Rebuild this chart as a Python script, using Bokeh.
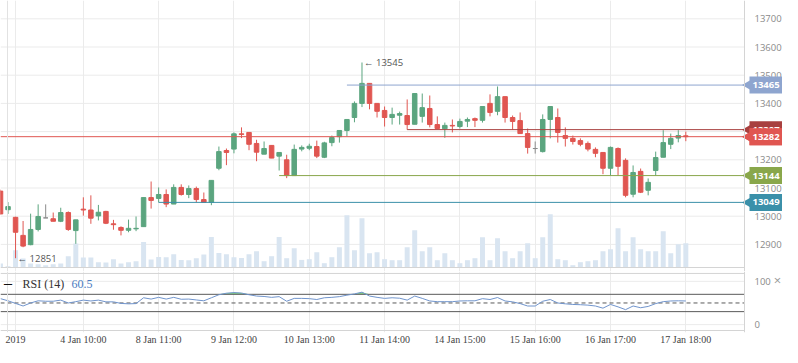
import numpy as np
from bokeh.plotting import figure
from bokeh.layouts import column
from bokeh.models import Range1d, FixedTicker, Label, Span, Grid
from bokeh.core.properties import value
from bokeh.embed import file_html
from bokeh.resources import INLINE

# ---------------- data (hourly candles, 0-based index) ----------------
opens = [13089, 13023, 12996, 12932, 12899, 12953, 12994, 12991, 12982, 13013,
         12949, 13025, 13022, 13001, 13017, 12973, 12960, 12950, 12955, 12963,
         13066, 13063, 13077, 13043, 13102, 13077, 13098, 13059, 13049, 13170,
         13233, 13238, 13292, 13297, 13258, 13220, 13251, 13213, 13200, 13144,
         13238, 13241, 13247, 13209, 13261, 13282, 13304, 13350, 13400, 13471,
         13400, 13375, 13350, 13358, 13357, 13326, 13354, 13382, 13325, 13310,
         13322, 13318, 13337, 13346, 13340, 13400, 13372, 13424, 13350, 13339,
         13293, 13240, 13229, 13343, 13350, 13286, 13276, 13268, 13258, 13237,
         13226, 13170, 13240, 13198, 13078, 13159, 13092, 13162, 13209, 13255,
         13277, 13285]
highs = [13094, 13050, 12998, 12983, 13009, 13042, 13042, 13013, 13030, 13017,
         12987, 13067, 13074, 13040, 13019, 12987, 12964, 12988, 12999, 13066,
         13123, 13102, 13095, 13113, 13113, 13109, 13105, 13084, 13127, 13247,
         13240, 13297, 13315, 13297, 13271, 13265, 13251, 13226, 13218, 13254,
         13251, 13257, 13268, 13264, 13286, 13304, 13343, 13407, 13545, 13471,
         13400, 13389, 13385, 13371, 13414, 13435, 13435, 13428, 13354, 13332,
         13343, 13346, 13350, 13350, 13389, 13432, 13460, 13424, 13357, 13368,
         13311, 13265, 13361, 13389, 13382, 13315, 13286, 13276, 13265, 13244,
         13226, 13247, 13244, 13205, 13180, 13169, 13134, 13229, 13305, 13293,
         13305, 13300]
lows = [13005, 13008, 12851, 12890, 12897, 12946, 12994, 12982, 12979, 12948,
        12902, 13002, 12973, 12985, 12972, 12952, 12932, 12943, 12947, 12963,
        13027, 13049, 13032, 13043, 13073, 13064, 13049, 13049, 13039, 13163,
        13181, 13223, 13277, 13234, 13195, 13220, 13206, 13162, 13135, 13144,
        13230, 13234, 13206, 13206, 13248, 13261, 13283, 13333, 13387, 13379,
        13350, 13318, 13325, 13325, 13307, 13326, 13332, 13315, 13311, 13278,
        13297, 13311, 13316, 13316, 13332, 13354, 13358, 13332, 13307, 13293,
        13222, 13222, 13226, 13276, 13261, 13247, 13254, 13248, 13230, 13209,
        13149, 13144, 13144, 13067, 13067, 13082, 13074, 13144, 13209, 13238,
        13262, 13266]
closes = [13008, 13034, 12943, 12894, 12953, 12999, 12994, 12982, 13013, 12953,
          12987, 13022, 12993, 13014, 12975, 12970, 12950, 12957, 12957, 13066,
          13056, 13077, 13043, 13102, 13077, 13098, 13059, 13049, 13127, 13229,
          13226, 13292, 13290, 13255, 13227, 13240, 13206, 13226, 13144, 13237,
          13244, 13248, 13213, 13260, 13279, 13304, 13343, 13400, 13471, 13400,
          13372, 13350, 13361, 13364, 13325, 13435, 13385, 13325, 13311, 13322,
          13320, 13336, 13343, 13340, 13389, 13368, 13424, 13350, 13336, 13293,
          13244, 13240, 13343, 13389, 13297, 13276, 13265, 13255, 13238, 13223,
          13170, 13244, 13177, 13074, 13155, 13085, 13120, 13208, 13261, 13276,
          13286, 13282]
volumes = [400, 130, 1730, 900, 400, 330, 230, 330, 400, 1130,
           2400, 1000, 1000, 530, 500, 830, 400, 530, 630, 2560,
           800, 1060, 1030, 1330, 760, 730, 930, 1300, 3060, 1460,
           1330, 1030, 960, 1330, 1630, 630, 1130, 3060, 930, 1930,
           760, 830, 1530, 430, 1030, 2030, 5230, 1730, 4930, 1430,
           1530, 830, 730, 730, 2030, 3730, 1630, 2030, 730, 1430,
           730, 430, 730, 930, 3030, 730, 2930, 1630, 930, 1630,
           2430, 930, 3030, 5330, 830, 730, 230, 530, 630, 730,
           1630, 1830, 3930, 1630, 3030, 1830, 1630, 1630, 3630, 1430,
           2330, 2430]
rsi = [60, 55, 49, 43, 50, 55, 54, 54, 56.6, 50,
       53, 56.6, 54.6, 56.6, 52.6, 52.6, 49, 48, 48.6, 62,
       59, 63, 59, 63, 58.6, 59, 57, 55, 62, 69,
       72.6, 74, 73, 69, 66, 65, 63, 64.6, 54, 60.6,
       60.6, 60, 58, 62, 63, 64.6, 68, 71, 75, 66,
       63, 60.6, 62, 61, 56.6, 66, 60.6, 54.6, 53, 53,
       53, 54.6, 55, 55, 60, 58, 62.6, 54.6, 52.6, 48.6,
       43, 43, 54, 58, 50, 48, 46.6, 46, 45, 43,
       38, 46.6, 41, 34.6, 43, 39, 42, 48.6, 53, 54.6,
       55, 54.6]

tick_index = [2, 11, 21, 31, 41, 51, 61, 71, 81, 91]
tick_labels = ["2019", "4 Jan 10:00", "8 Jan 11:00", "9 Jan 12:00", "10 Jan 13:00",
               "11 Jan 14:00", "14 Jan 15:00", "15 Jan 16:00", "16 Jan 17:00", "17 Jan 18:00"]
price_ticks = [12900, 13000, 13100, 13200, 13300, 13400, 13500, 13600, 13700]
rsi_ticks = [0, 100]
rsi_bands = [70, 30]
rsi_mid = [50]

level_values = [13465, 13307, 13282, 13144, 13049]
level_start = [46, 54, 0, 37, 21]
level_colors = ["#8ea5cf", "#a8403f", "#e05651", "#89a74b", "#3b90a9"]

rsi_name = "RSI (14)"
rsi_last = "60.5"

# ---------------- styling / layout constants ----------------
GREEN = "#5ba57f"
RED = "#e05651"
GRAY = "#8c8c8c"
GRID = "#ebebeb"
BORDER = "#d4d4d4"
SANS = "Open Sans"
SERIF = "Liberation Serif"

W = 782
STEP = 7.531                 # px per candle
XR = Range1d(0, W / STEP)
XB = 744 / STEP              # right edge of plotting area (axis line)
PX = 1.0 / STEP              # one pixel in x data units

n = len(opens)
x = np.arange(n)
o = np.array(opens, dtype=float)
c = np.array(closes, dtype=float)
colors = [GREEN if cc > oo else (RED if cc < oo else GRAY) for oo, cc in zip(o, c)]

# ================= main price panel =================
p = figure(width=W, height=271, x_range=XR, y_range=Range1d(12803.9, 13764.9),
           output_backend="svg", toolbar_location=None,
           x_axis_location=None, y_axis_location=None,
           min_border=0, min_border_left=0, min_border_right=0,
           min_border_top=0, min_border_bottom=0)
p.outline_line_color = None
p.grid.visible = False
p.extra_y_ranges = {"vol": Range1d(-400, 26700)}

p.add_layout(Grid(dimension=0, ticker=FixedTicker(ticks=tick_index), grid_line_color=GRID))
p.segment(x0=[XR.start] * len(price_ticks), y0=price_ticks,
          x1=[XB] * len(price_ticks), y1=price_ticks, line_color=GRID, line_width=1)
p.add_layout(Span(location=XB, dimension="height", line_color=BORDER, line_width=1))
p.add_layout(Span(location=7 * PX, dimension="height", line_color="#e2e2e2", line_width=1))

# volume
p.vbar(x=x, top=volumes, bottom=0, width=0.66, y_range_name="vol",
       fill_color="#d9e5f1", line_color=None)
p.segment(x0=[XR.start], y0=[0], x1=[XB], y1=[0], y_range_name="vol",
          line_color=BORDER, line_width=1)

# candles
p.segment(x0=x, y0=lows, x1=x, y1=highs, line_color=colors, line_width=1)
p.vbar(x=x, top=np.maximum(o, c), bottom=np.minimum(o, c), width=0.6,
       fill_color=colors, line_color=colors, line_width=1)

# level lines
p.segment(x0=level_start, y0=level_values, x1=[XB] * len(level_values), y1=level_values,
          line_color=level_colors, line_width=1)

# high / low markers
hi = int(np.argmax(highs))
lo = int(np.argmin(lows))
p.text(x=[hi, lo], y=[highs[hi], lows[lo]],
       text=["\u2190 %d" % highs[hi], "\u2190 %d" % lows[lo]],
       x_offset=2, text_baseline="middle", text_align="left",
       text_font=value(SANS), text_font_size="9.5px", text_color="#555555")

# price axis labels
p.text(x=[XB] * len(price_ticks), y=price_ticks, text=[str(t) for t in price_ticks],
       x_offset=10, text_baseline="middle", text_align="left",
       text_font=value(SANS), text_font_size="9.5px", text_color="#8a8a8a")

# price tags
nl = len(level_values)
p.scatter(x=[XB + 5 * PX] * nl, y=level_values, marker="triangle", size=13,
          angle=np.pi / 2, fill_color=level_colors, line_color=None)
p.rect(x=[XB + 24 * PX] * nl, y=level_values, width=38, height=17,
       width_units="screen", height_units="screen",
       fill_color=level_colors, line_color=None)
p.text(x=[XB + 8 * PX] * nl, y=level_values, text=[str(v) for v in level_values],
       text_baseline="middle", text_align="left", text_font=value(SANS),
       text_font_size="9.5px", text_font_style="bold", text_color="white")
# redraw the current price tag on top of the hidden one
cur = [level_values[2]]
p.scatter(x=[XB + 5 * PX], y=cur, marker="triangle", size=13,
          angle=np.pi / 2, fill_color=level_colors[2], line_color=None)
p.rect(x=[XB + 24 * PX], y=cur, width=38, height=17,
       width_units="screen", height_units="screen",
       fill_color=level_colors[2], line_color=None)
p.text(x=[XB + 8 * PX], y=cur, text=[str(cur[0])],
       text_baseline="middle", text_align="left", text_font=value(SANS),
       text_font_size="9.5px", text_font_style="bold", text_color="white")

# ================= RSI panel =================
r = figure(width=W, height=76, x_range=XR, y_range=Range1d(-18.2, 122.7),
           output_backend="svg", toolbar_location=None,
           x_axis_location="below", y_axis_location=None,
           min_border=0, min_border_left=0, min_border_right=0,
           min_border_top=0, min_border_bottom=14)
r.outline_line_color = None
r.grid.visible = False
r.add_layout(Grid(dimension=0, ticker=FixedTicker(ticks=tick_index), grid_line_color=GRID))
r.segment(x0=[XR.start] * 2, y0=rsi_ticks, x1=[XB] * 2, y1=rsi_ticks,
          line_color=GRID, line_width=1)
# panel box
r.segment(x0=[XR.start] * 2, y0=[118.2, -13.6], x1=[XB] * 2, y1=[118.2, -13.6],
          line_color=BORDER, line_width=1)
r.add_layout(Span(location=XB, dimension="height", line_color=BORDER, line_width=1))
r.add_layout(Span(location=7 * PX, dimension="height", line_color="#e2e2e2", line_width=1))

rx = r.xaxis[0]
rx.ticker = FixedTicker(ticks=tick_index)
rx.major_label_overrides = {t: lab for t, lab in zip(tick_index, tick_labels)}
rx.axis_line_color = None
rx.major_tick_line_color = None
rx.minor_tick_line_color = None
rx.major_tick_out = 0
rx.major_tick_in = 0
rx.minor_tick_out = 0
rx.minor_tick_in = 0
rx.major_label_standoff = 1
rx.major_label_text_font = SERIF
rx.major_label_text_font_size = "10px"
rx.major_label_text_color = "#444444"

r.text(x=[XB] * 2, y=rsi_ticks, text=[str(t) for t in rsi_ticks],
       x_offset=10, text_baseline="middle", text_align="left",
       text_font=value(SANS), text_font_size="9.5px", text_color="#8a8a8a")

rsi_arr = np.array(rsi, dtype=float)
r.varea(x=x, y1=[70] * n, y2=np.maximum(rsi_arr, 70), fill_color="#86d986")
r.segment(x0=[XR.start] * 2, y0=rsi_bands, x1=[XB] * 2, y1=rsi_bands,
          line_color="#5a5a5a", line_width=1)
r.segment(x0=[XR.start], y0=rsi_mid, x1=[XB], y1=rsi_mid,
          line_color="#5a5a5a", line_width=1, line_dash="4 3")
r.line(x=x, y=rsi_arr, line_color="#7094cc", line_width=1)

r.add_layout(Label(x=3, y=49, x_units="screen", y_units="screen", text="\u2014",
                   text_align="left", text_baseline="middle", text_font=SANS,
                   text_font_size="9px", text_font_style="bold", text_color="#111111"))
r.add_layout(Label(x=22, y=49, x_units="screen", y_units="screen", text=rsi_name,
                   text_align="left", text_baseline="middle", text_font=SERIF,
                   text_font_size="12px", text_color="#333333"))
r.add_layout(Label(x=71, y=49, x_units="screen", y_units="screen", text=rsi_last,
                   text_align="left", text_baseline="middle", text_font=SERIF,
                   text_font_size="12px", text_color="#4a7bbf"))
r.add_layout(Label(x=777, y=53, x_units="screen", y_units="screen", text="\u00d7",
                   text_align="center", text_baseline="middle", text_font=SANS,
                   text_font_size="13px", text_color="#999999"))

layout = column(p, r)
open("out.html", "w").write(file_html(layout, INLINE))
